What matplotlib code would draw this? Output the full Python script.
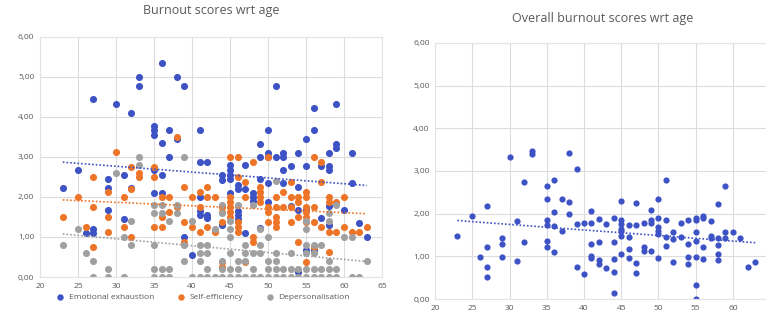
import numpy as np
import matplotlib
matplotlib.use("Agg")
import matplotlib.pyplot as plt
from matplotlib.ticker import FuncFormatter

plt.rcParams['font.family'] = ['Open Sans', 'DejaVu Sans']

# Emotional exhaustion (age, score)
ee_age = [23, 25, 26, 27, 27, 27, 29, 29, 29, 30, 31, 31, 32, 32, 33, 33,
          35, 35, 35, 35, 35, 36, 36, 36, 36, 37, 37, 38, 38, 39, 39, 40,
          41, 41, 41, 41, 41, 42, 42, 42, 44, 44, 44, 45, 45, 45, 45, 45,
          46, 46, 46, 46, 46, 47, 47, 47, 48, 48, 48, 49, 49, 49, 49,
          50, 50, 50, 50, 50, 51, 51, 52, 52, 52, 52, 53, 53, 54, 54, 54, 54,
          55, 55, 55, 55, 56, 56, 56, 57, 57, 58, 58, 58, 58, 58,
          59, 59, 59, 60, 61, 61, 62, 63]
ee_val = [2.23, 2.67, 1.10, 4.45, 1.20, 1.10, 2.45, 2.23, 1.67, 4.33, 2.55, 1.45, 4.10, 2.23, 5.00, 4.78,
          3.78, 3.67, 3.55, 2.67, 2.11, 5.34, 3.34, 2.55, 2.11, 3.67, 3.00, 5.00, 3.45, 4.78, 1.00, 0.55,
          3.67, 2.88, 2.00, 1.65, 1.55, 2.88, 1.55, 1.47, 2.55, 2.43, 1.30, 2.80, 2.67, 2.55, 2.44, 2.10,
          2.30, 2.20, 1.65, 1.55, 1.45, 2.80, 2.20, 1.10, 2.10, 2.00, 1.90, 3.33, 3.00, 2.45, 1.22,
          3.67, 3.10, 3.00, 2.34, 1.88, 4.78, 3.00, 3.10, 3.00, 2.68, 2.34, 2.78, 1.77, 3.10, 2.24, 1.68, 0.13,
          3.44, 2.78, 1.68, 0.68, 4.23, 3.67, 0.68, 2.78, 1.47, 3.10, 2.78, 2.68, 1.77, 1.30,
          4.33, 3.33, 3.23, 1.67, 3.10, 2.34, 1.34, 1.00]

# Self-efficiency
se_age = [23, 25, 26, 27, 27, 27, 29, 29, 29, 30, 31, 31, 32, 32, 32, 33, 33,
          35, 35, 35, 36, 36, 36, 37, 37, 38, 38, 39, 39, 39, 40, 40,
          41, 41, 41, 42, 42, 42, 43, 43, 44, 44, 44, 44, 44,
          45, 45, 45, 45, 45, 45, 46, 46, 46, 46, 46, 47, 47, 47, 48, 48, 48,
          49, 49, 49, 49, 50, 50, 50, 50, 51, 51, 51, 51, 51, 52, 52,
          53, 53, 53, 53, 54, 54, 54, 54, 55, 55, 55, 55, 55, 55, 55,
          56, 56, 56, 56, 57, 57, 57, 58, 58, 58, 58, 59, 59, 60, 60, 61, 62, 63]
se_val = [1.50, 2.00, 1.25, 2.50, 1.75, 0.75, 2.13, 1.50, 1.12, 3.13, 2.00, 1.25, 2.75, 2.20, 1.00, 2.60, 2.50,
          2.75, 2.50, 1.25, 2.00, 1.50, 1.25, 2.00, 1.63, 3.50, 1.75, 2.25, 1.38, 0.88, 2.00, 1.25,
          2.13, 1.75, 1.13, 2.25, 2.00, 1.25, 2.00, 1.13, 1.75, 1.63, 1.38, 0.38, 0.25,
          3.00, 2.00, 1.88, 1.75, 1.63, 1.50, 3.00, 2.50, 1.38, 1.25, 1.13, 2.38, 2.00, 0.38, 2.88, 1.00, 0.88,
          2.25, 2.13, 2.00, 1.88, 3.00, 1.75, 1.63, 1.38, 2.00, 1.75, 1.50, 1.38, 1.25, 2.13, 1.75,
          2.38, 2.00, 1.75, 1.38, 2.00, 1.88, 1.50, 0.88, 2.13, 2.00, 1.75, 1.63, 1.50, 1.38, 0.38,
          3.00, 1.75, 1.38, 0.75, 2.88, 2.38, 1.25, 2.00, 1.88, 1.13, 0.63, 1.88, 1.13, 2.00, 1.25, 1.13, 1.13, 1.25]

# Depersonalisation
dp_age = [23, 25, 26, 27, 27, 29, 29, 30, 31, 31, 32, 32, 33, 33,
          35, 35, 35, 35, 35, 36, 36, 36, 36, 37, 37, 37, 38, 38, 39, 39, 39, 40, 40,
          41, 41, 41, 41, 42, 42, 42, 42, 43, 43, 44, 44, 44, 44, 44,
          45, 45, 45, 45, 45, 45, 46, 46, 46, 46, 47, 47, 47, 47, 48, 48, 48, 48,
          49, 49, 49, 49, 50, 50, 50, 50, 51, 51, 51, 51, 51, 52, 52, 53, 53, 53, 54, 54,
          55, 55, 55, 55, 55, 55, 56, 56, 56, 56, 57, 57, 57, 58, 58, 58, 58, 58,
          59, 59, 59, 60, 61, 61, 62, 63]
dp_val = [0.80, 1.20, 0.60, 0.40, 0.00, 0.20, 0.00, 2.60, 1.00, 0.00, 1.40, 0.80, 3.00, 2.80,
          1.80, 1.60, 0.80, 0.20, 0.00, 1.80, 1.60, 0.20, 0.00, 1.40, 0.20, 0.00, 1.80, 1.60, 3.00, 0.80, 0.40, 1.40, 0.00,
          0.80, 0.60, 0.40, 0.00, 0.80, 0.60, 0.20, 0.00, 1.20, 0.00, 1.80, 1.60, 0.40, 0.20, 0.00,
          1.40, 1.20, 1.00, 0.60, 0.20, 0.00, 1.80, 0.40, 0.20, 0.00, 0.80, 0.60, 0.40, 0.00, 1.80, 0.60, 0.20, 0.00,
          1.20, 0.80, 0.60, 0.00, 1.00, 0.40, 0.20, 0.00, 2.40, 0.60, 0.40, 0.20, 0.00, 0.20, 0.00, 0.60, 0.20, 0.00, 0.20, 0.00,
          1.40, 1.20, 0.80, 0.60, 0.20, 0.00, 0.80, 0.60, 0.20, 0.00, 0.80, 0.20, 0.00, 1.60, 1.40, 0.40, 0.20, 0.00,
          1.80, 0.20, 0.00, 1.00, 1.00, 0.00, 0.00, 0.40]

# Overall burnout
ov_age = [23, 25, 26, 27, 27, 27, 27, 29, 29, 29, 30, 31, 31, 32, 32, 33, 33,
          35, 35, 35, 35, 35, 35, 36, 36, 36, 36, 37, 37, 38, 38, 38, 39, 39, 39, 40, 40,
          41, 41, 41, 41, 41, 42, 42, 42, 42, 43, 43, 44, 44, 44, 44, 44,
          45, 45, 45, 45, 45, 45, 45, 46, 46, 46, 46, 47, 47, 47, 47, 48, 48, 48,
          49, 49, 49, 49, 50, 50, 50, 50, 50, 50, 51, 51, 51, 51, 52, 52, 52, 53, 53,
          54, 54, 54, 54, 55, 55, 55, 55, 55, 55, 55, 56, 56, 56, 56, 57, 57, 57,
          58, 58, 58, 58, 58, 59, 59, 59, 60, 61, 62, 63]
ov_val = [1.48, 1.94, 0.98, 2.18, 1.23, 0.74, 0.52, 1.44, 1.30, 0.98, 3.33, 1.83, 0.89, 2.74, 1.33, 3.46, 3.39,
          2.64, 2.35, 1.86, 1.74, 1.35, 1.23, 2.80, 2.04, 1.72, 1.10, 2.35, 1.60, 3.42, 2.28, 1.99, 3.04, 1.75, 0.75, 1.79, 0.59,
          2.07, 1.79, 1.29, 1.00, 0.97, 1.88, 1.34, 0.91, 0.82, 1.75, 0.73, 1.90, 1.33, 0.93, 0.63, 0.14,
          2.29, 1.86, 1.75, 1.65, 1.60, 1.47, 1.06, 1.73, 1.45, 1.18, 0.96, 2.24, 1.74, 0.85, 0.60, 1.77, 1.21, 1.13,
          2.08, 1.86, 1.77, 1.13, 2.35, 1.90, 1.68, 1.60, 1.52, 0.96, 2.79, 1.85, 1.45, 1.24, 1.58, 1.40, 0.87, 1.77, 1.45,
          1.84, 1.29, 0.99, 0.83, 1.91, 1.84, 1.56, 1.37, 0.99, 0.33, 0.00, 1.95, 1.91, 1.21, 0.93, 1.83, 1.47, 1.42,
          2.22, 1.44, 1.26, 1.05, 0.91, 2.66, 1.56, 1.44, 1.56, 1.42, 0.76, 0.86]

BLUE = '#3d52c4'
ORANGE = '#ee7427'
GREY = '#a0a0a0'
TXT = '#595959'

fig = plt.figure(figsize=(7.66, 3.13), dpi=100)
ax1 = fig.add_axes([0.0522, 0.115, 0.4465, 0.767])
ax2 = fig.add_axes([0.568, 0.0447, 0.4373, 0.818])

comma = FuncFormatter(lambda v, p: f'{v:.2f}'.replace('.', ','))


def style(ax, title, ty):
    ax.set_xlim(20, 65)
    ax.set_ylim(0, 6)
    ax.set_xticks(range(20, 66, 5))
    ax.set_yticks(range(0, 7))
    ax.yaxis.set_major_formatter(comma)
    ax.grid(True, color='#dcdcdc', lw=0.8)
    ax.set_axisbelow(True)
    for s in ax.spines.values():
        s.set_color('#e4e4e4')
        s.set_linewidth(0.8)
    ax.tick_params(length=0, labelsize=6, labelcolor=TXT, pad=4)
    ax.set_title(title, fontsize=9, color=TXT, y=ty)


def trend(ax, x, y, color):
    k, b = np.polyfit(x, y, 1)
    xs = np.array([min(x), max(x)])
    ax.plot(xs, k * xs + b, ls=(0, (1, 1.2)), color=color, lw=1.2, zorder=3)


series = [(ee_age, ee_val, BLUE, 'Emotional exhaustion'),
          (se_age, se_val, ORANGE, 'Self-efficiency'),
          (dp_age, dp_val, GREY, 'Depersonalisation')]
for a, v, c, lab in series:
    ax1.scatter(a, v, s=26, color=c, label=lab, zorder=2, linewidths=0)
for a, v, c, lab in series:
    trend(ax1, a, v, c)
style(ax1, 'Burnout scores wrt age', 1.06)
ax1.legend(loc='upper center', bbox_to_anchor=(0.47, -0.045), ncol=3, frameon=False,
           fontsize=6, labelcolor=TXT, handletextpad=0.05, columnspacing=2.2,
           markerscale=0.9, borderpad=0.2)

ax2.scatter(ov_age, ov_val, s=20, color=BLUE, zorder=2, linewidths=0)
trend(ax2, ov_age, ov_val, BLUE)
style(ax2, 'Overall burnout scores wrt age', 1.05)

fig.savefig('out.png', dpi=100)
